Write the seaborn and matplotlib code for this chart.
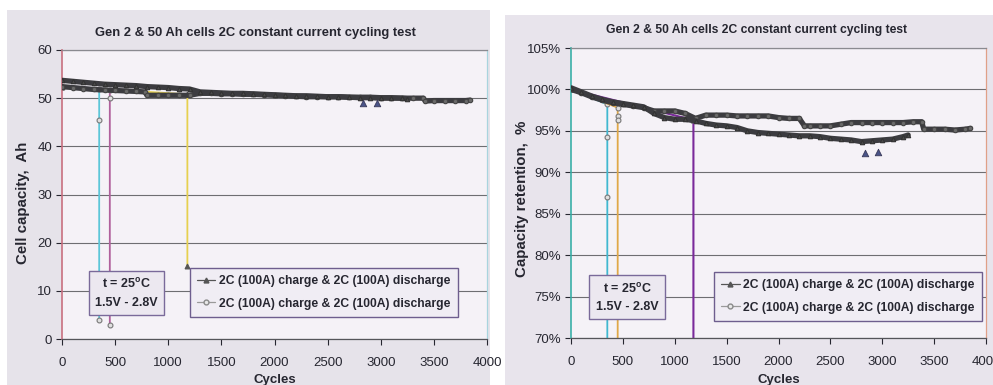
import matplotlib
matplotlib.use("Agg")
import matplotlib.pyplot as plt
import seaborn as sns
import pandas as pd
from matplotlib.patches import Rectangle
from matplotlib.lines import Line2D

# ---------------- data ----------------
# Left panel: cell capacity (Ah)
capA_cycles = [0, 100, 200, 300, 400, 500, 600, 700, 800, 900, 1000, 1100, 1200, 1300, 1400, 1500,
               1600, 1700, 1800, 1900, 2000, 2100, 2200, 2300, 2400, 2500, 2600, 2700, 2800,
               2900, 3000, 3100, 3200, 3250]
capA_values = [53.7, 53.5, 53.3, 53.1, 52.9, 52.8, 52.7, 52.6, 52.4, 52.3, 52.2, 52.0, 51.9, 51.3,
               51.2, 51.1, 51.0, 51.0, 50.9, 50.8, 50.7, 50.6, 50.5, 50.5, 50.4, 50.3, 50.3, 50.2,
               50.1, 50.1, 50.0, 50.0, 50.0, 49.9]
capA_dip_cycles = [2830, 2960]
capA_dip_values = [49.0, 49.0]
capB_cycles = [0, 100, 200, 300, 400, 500, 600, 700, 780, 800, 900, 1000, 1100, 1200, 1300, 1400,
               1500, 1600, 1700, 1800, 1900, 2000, 2100, 2200, 2300, 2400, 2500, 2600, 2700, 2800,
               2900, 3000, 3100, 3200, 3300, 3400, 3420, 3500, 3600, 3700, 3800, 3840]
capB_values = [52.4, 52.2, 52.0, 51.8, 51.7, 51.6, 51.5, 51.4, 51.3, 50.6, 50.6, 50.6, 50.6, 50.6,
               51.0, 51.0, 50.9, 50.9, 50.8, 50.8, 50.7, 50.6, 50.5, 50.4, 50.3, 50.3, 50.3, 50.3,
               50.2, 50.2, 50.2, 50.1, 50.1, 50.0, 50.0, 50.0, 49.4, 49.5, 49.5, 49.5, 49.5, 49.6]
capC_cycles = [0, 350, 350, 350]
capC_values = [52.4, 51.8, 45.5, 4.0]
capD_cycles = [0, 450, 450, 450]
capD_values = [52.4, 51.6, 50.0, 3.0]
capE_cycles = [0, 1180, 1180]
capE_values = [52.4, 50.8, 15.2]

# Right panel: capacity retention (%)
retA_cycles = [0, 100, 200, 300, 400, 500, 600, 700, 800, 900, 1000, 1100, 1200, 1300, 1400, 1500,
               1600, 1700, 1800, 1900, 2000, 2100, 2200, 2300, 2400, 2500, 2600, 2700, 2800,
               2900, 3000, 3100, 3200, 3250]
retA_values = [100.2, 99.7, 99.2, 98.8, 98.5, 98.3, 98.1, 97.9, 97.1, 96.6, 96.4, 96.4, 96.2, 95.9,
               95.7, 95.6, 95.4, 95.0, 94.8, 94.7, 94.6, 94.5, 94.4, 94.4, 94.3, 94.1, 94.0, 93.9,
               93.7, 93.8, 93.9, 94.0, 94.3, 94.5]
retA_dip_cycles = [2830, 2960]
retA_dip_values = [92.3, 92.4]
retB_cycles = [0, 100, 200, 300, 400, 500, 600, 700, 800, 900, 1000, 1100, 1200, 1300, 1400, 1500,
               1600, 1700, 1800, 1900, 2000, 2100, 2200, 2250, 2300, 2400, 2500, 2600, 2700, 2800,
               2900, 3000, 3100, 3200, 3300, 3380, 3400, 3500, 3600, 3700, 3800, 3850]
retB_values = [100.0, 99.6, 99.1, 98.7, 98.4, 98.2, 98.0, 97.8, 97.4, 97.4, 97.4, 97.1, 96.5, 96.9,
               96.9, 96.9, 96.8, 96.8, 96.8, 96.8, 96.6, 96.5, 96.5, 95.6, 95.6, 95.6, 95.6, 95.8,
               96.0, 96.0, 96.0, 96.0, 96.0, 96.0, 96.1, 96.1, 95.2, 95.2, 95.2, 95.1, 95.2, 95.3]
retC_cycles = [0, 350, 350, 350, 350]
retC_values = [100.0, 98.2, 94.3, 87.0, 8.0]
retD_cycles = [0, 450, 450, 450, 450]
retD_values = [100.0, 97.8, 96.8, 96.3, 6.0]
retE_cycles = [0, 1180, 1180]
retE_values = [100.0, 96.3, 29.0]

legend_label = "2C (100A) charge & 2C (100A) discharge"
title_text = "Gen 2 & 50 Ah cells 2C constant current cycling test"
note_text = "t = 25$^{\\mathbf{o}}$C\n1.5V - 2.8V"
cap_ticks = [0, 10, 20, 30, 40, 50, 60]
ret_ticks = [70, 75, 80, 85, 90, 95, 100, 105]
x_ticks = [0, 500, 1000, 1500, 2000, 2500, 3000, 3500, 4000]

# ---------------- style ----------------
sns.set_theme(style="white")
plt.rcParams["font.family"] = ["Liberation Sans", "DejaVu Sans"]
plt.rcParams["mathtext.fontset"] = "custom"
plt.rcParams["mathtext.rm"] = "Liberation Sans"
plt.rcParams["mathtext.bf"] = "Liberation Sans:bold"
plt.rcParams["text.color"] = "#222222"

BAND = "#3c3c40"
GRID = "#6e6e72"
TXT = "#262630"

fig = plt.figure(figsize=(9.93, 3.85), dpi=100)
fig.patch.set_facecolor("white")
fig.patches.append(Rectangle((7 / 993, 0), (490 - 7) / 993, (385 - 10) / 385,
                             transform=fig.transFigure, facecolor="#e6e3ea", edgecolor="none", zorder=-10))
fig.patches.append(Rectangle((505 / 993, 0), (993 - 505) / 993, (385 - 15) / 385,
                             transform=fig.transFigure, facecolor="#e8e4ec", edgecolor="none", zorder=-10))

axL = fig.add_axes([62 / 993, 1 - 339 / 385, (487 - 62) / 993, (339 - 50) / 385])
axR = fig.add_axes([571 / 993, 1 - 338 / 385, (986 - 571) / 993, (338 - 48) / 385])


def series(ax, xs, ys, color, marker, lw, ms, mfc, mec, z):
    df = pd.DataFrame({"x": xs, "y": ys})
    sns.lineplot(data=df, x="x", y="y", ax=ax, color=color, marker=marker, lw=lw,
                 markersize=ms, markerfacecolor=mfc, markeredgecolor=mec, markeredgewidth=0.8,
                 estimator=None, sort=False, zorder=z, legend=False)


def dips(ax, xs, ys):
    df = pd.DataFrame({"x": xs, "y": ys})
    sns.scatterplot(data=df, x="x", y="y", ax=ax, marker="^", s=22, color="#4a5488",
                    edgecolor="#3a3a5a", linewidth=0.6, zorder=5, legend=False)


for ax in (axL, axR):
    ax.set_facecolor("#f5f2f7")

# Left panel
series(axL, capC_cycles, capC_values, "#5cc6d8", "o", 1.3, 3.5, "#e0e0e0", "#777777", 2)
series(axL, capD_cycles, capD_values, "#b0609c", "o", 1.3, 3.5, "#e0e0e0", "#777777", 2)
series(axL, capE_cycles, capE_values, "#e6d050", "^", 1.3, 3.5, "#555555", "#555555", 2)
dips(axL, capA_dip_cycles, capA_dip_values)
series(axL, capB_cycles, capB_values, BAND, "o", 3.8, 3.2, "#6a6a6a", "#444444", 3)
series(axL, capA_cycles, capA_values, BAND, "^", 3.8, 3.2, "#4a4a4a", "#333333", 4)

# Right panel
series(axR, retC_cycles, retC_values, "#40b8d0", "o", 1.3, 3.5, "#e0e0e0", "#777777", 2)
series(axR, retD_cycles, retD_values, "#e0a848", "o", 1.3, 3.5, "#e0e0e0", "#777777", 2)
series(axR, retE_cycles, retE_values, "#7a2a9a", "^", 1.5, 3.5, "#555555", "#555555", 2)
dips(axR, retA_dip_cycles, retA_dip_values)
series(axR, retB_cycles, retB_values, BAND, "o", 3.8, 3.2, "#6a6a6a", "#444444", 3)
series(axR, retA_cycles, retA_values, BAND, "^", 3.8, 3.2, "#4a4a4a", "#333333", 4)

axL.set_xlim(0, 4000)
axL.set_ylim(0, 60)
axR.set_xlim(0, 4000)
axR.set_ylim(70, 105)
axL.set_yticks(cap_ticks)
axR.set_yticks(ret_ticks)
axR.set_yticklabels([f"{t}%" for t in ret_ticks])

for ax, xlab, ylab in ((axL, "Cycles", "Cell capacity,  Ah"),
                       (axR, "Cycles", "Capacity retention,  %")):
    ax.set_xticks(x_ticks)
    ax.grid(True, axis="y", color=GRID, lw=0.8)
    ax.grid(False, axis="x")
    ax.set_axisbelow(True)
    ax.tick_params(axis="both", labelsize=9.5, colors=TXT, length=4, width=0.8, direction="out",
                   bottom=True, left=True, pad=3)
    ax.tick_params(axis="x", pad=9)
    for lab in ax.get_xticklabels() + ax.get_yticklabels():
        lab.set_color(TXT)
    ax.set_xlabel(xlab, fontsize=9.5, fontweight="bold", color=TXT)
    ax.set_ylabel(ylab, fontsize=10.8, fontweight="bold", color=TXT)
    ax.spines["top"].set_color("#8a8a90")
    ax.spines["bottom"].set_color("#55555a")
    for s in ax.spines.values():
        s.set_linewidth(0.9)

axL.xaxis.set_label_coords(0.5, -0.122)
axR.xaxis.set_label_coords(0.5, -0.125)
axL.yaxis.set_label_coords(-0.076, 0.47)
axR.yaxis.set_label_coords(-0.101, 0.479)

fig.text(255 / 993, 1 - 33 / 385, title_text, ha="center", va="center", fontsize=9.4,
         fontweight="bold", color=TXT)
fig.text(757 / 993, 1 - 30 / 385, title_text, ha="center", va="center", fontsize=8.7,
         fontweight="bold", color=TXT)

axL.spines["left"].set_color("#c87080")
axL.spines["left"].set_linewidth(1.2)
axL.spines["right"].set_color("#a8d4de")
axR.spines["left"].set_color("#3ab0a8")
axR.spines["left"].set_linewidth(1.2)
axR.spines["right"].set_color("#e0a088")

# Legends
hA = Line2D([], [], color="#555555", lw=0.9, marker="^", markersize=3.5,
            markerfacecolor="#555555", markeredgecolor="#555555")
hB = Line2D([], [], color="#9a9a9a", lw=0.9, marker="o", markersize=3.5,
            markerfacecolor="#e8e8e8", markeredgecolor="#8a8a8a")
for ax, anchor in ((axL, (0.301, 0.245)), (axR, (0.345, 0.227))):
    leg = ax.legend([hA, hB], [legend_label, legend_label], loc="upper left",
                    bbox_to_anchor=anchor, fancybox=False, frameon=True, framealpha=1,
                    facecolor="#f0edf4", edgecolor="#6e5e8e", handlelength=1.5,
                    handletextpad=0.3, borderpad=0.6, labelspacing=0.85, borderaxespad=0,
                    prop={"size": 8.7, "weight": "bold"})
    for t in leg.get_texts():
        t.set_color(TXT)
    leg.get_frame().set_linewidth(1.0)

axL.text(0.152, 0.159, note_text, transform=axL.transAxes, ha="center", va="center",
         fontsize=9, fontweight="bold", color=TXT, linespacing=1.6,
         bbox=dict(boxstyle="square,pad=0.5", facecolor="#ece8f0", edgecolor="#7a6a9a", lw=1.0))
axR.text(0.135, 0.141, note_text, transform=axR.transAxes, ha="center", va="center",
         fontsize=9, fontweight="bold", color=TXT, linespacing=1.6,
         bbox=dict(boxstyle="square,pad=0.5", facecolor="#ece8f0", edgecolor="#7a6a9a", lw=1.0))

fig.savefig("out.png", dpi=100, facecolor=fig.get_facecolor())
